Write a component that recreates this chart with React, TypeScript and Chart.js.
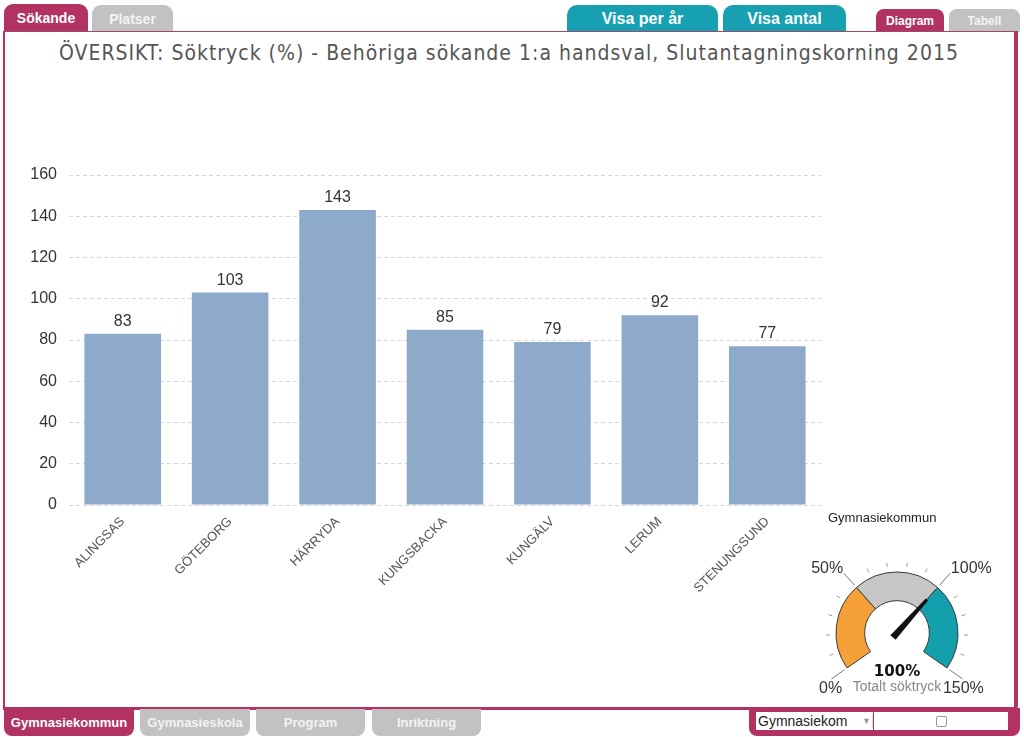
import React, { useEffect, useRef } from 'react';
import { Chart, registerables } from 'chart.js';

Chart.register(...registerables);

// ---------- data ----------
const chartTitle = 'ÖVERSIKT: Söktryck (%) - Behöriga sökande 1:a handsval, Slutantagningskorning 2015';
const categories = ['ALINGSAS', 'GÖTEBORG', 'HÄRRYDA', 'KUNGSBACKA', 'KUNGÄLV', 'LERUM', 'STENUNGSUND'];
const values = [83, 103, 143, 85, 79, 92, 77];
const yMin = 0;
const yMax = 160;
const yStep = 20;
const xAxisTitle = 'Gymnasiekommun';

const gaugeBandNames = ['Låg', 'Mellan', 'Hög'];
const gaugeBands = [50, 50, 50];
const gaugeValue = 100;
const gaugeMax = 150;
const gaugeMinorStep = 10;
const gaugeMajorStep = 50;
const gaugeMajorLabels = ['0%', '50%', '100%', '150%'];
const gaugeValueLabel = '100%';
const gaugeCaption = 'Totalt söktryck';

const topLeftTabs = ['Sökande', 'Platser'];
const topMidTabs = ['Visa per år', 'Visa antal'];
const topRightTabs = ['Diagram', 'Tabell'];
const bottomTabs = ['Gymnasiekommun', 'Gymnasieskola', 'Program', 'Inriktning'];
const dropdownText = 'Gymnasiekom';

// ---------- styles ----------
const PINK = '#b23362';
const TEAL = '#17a0b2';
const GREY_TAB = '#c2c2c2';
const BAR = '#8eaacb';
const FONT = '"Liberation Sans", Arial, sans-serif';
const gaugeColors = ['#f6a03a', '#c6c6c6', '#139fab'];

const valueLabelPlugin = {
  id: 'valueLabels',
  afterDatasetsDraw(chart: any) {
    const ctx = chart.ctx;
    const meta = chart.getDatasetMeta(0);
    ctx.save();
    ctx.font = '16px ' + FONT;
    ctx.fillStyle = '#333';
    ctx.textAlign = 'center';
    ctx.textBaseline = 'alphabetic';
    meta.data.forEach((bar: any, i: number) => {
      ctx.fillText(String(values[i]), bar.x, bar.y - 8);
    });
    ctx.restore();
  },
};

const gaugePlugin = {
  id: 'gaugeDecor',
  afterDatasetsDraw(chart: any) {
    const ctx = chart.ctx;
    const arcs = chart.getDatasetMeta(0).data;
    if (!arcs.length) return;
    const first = arcs[0];
    const last = arcs[arcs.length - 1];
    const cx = first.x;
    const cy = first.y;
    const R = first.outerRadius;
    const a0 = first.startAngle;
    const a1 = last.endAngle;
    const angleFor = (v: number) => a0 + ((a1 - a0) * v) / gaugeMax;
    ctx.save();
    // ticks
    for (let k = 0; k * gaugeMinorStep <= gaugeMax; k++) {
      const v = k * gaugeMinorStep;
      const a = angleFor(v);
      const major = v % gaugeMajorStep === 0;
      const r1 = major ? R + 3 : R + 6;
      const r2 = major ? R + 19 : R + 10;
      ctx.beginPath();
      ctx.moveTo(cx + r1 * Math.cos(a), cy + r1 * Math.sin(a));
      ctx.lineTo(cx + r2 * Math.cos(a), cy + r2 * Math.sin(a));
      ctx.strokeStyle = major ? '#777' : '#999';
      ctx.lineWidth = 1;
      ctx.stroke();
    }
    // labels
    ctx.font = '16px ' + FONT;
    ctx.fillStyle = '#333';
    gaugeMajorLabels.forEach((lab, i) => {
      const a = angleFor(i * gaugeMajorStep);
      const x = cx + (R + 20) * Math.cos(a);
      const y = cy + (R + 20) * Math.sin(a);
      if (Math.sin(a) < 0) {
        ctx.textAlign = Math.cos(a) < 0 ? 'right' : 'left';
        ctx.textBaseline = 'bottom';
        ctx.fillText(lab, x, y + 4);
      } else {
        ctx.textAlign = 'center';
        ctx.textBaseline = 'top';
        ctx.fillText(lab, x, y + 1);
      }
    });
    // needle
    const an = angleFor(gaugeValue);
    const ux = Math.cos(an);
    const uy = Math.sin(an);
    const px = -uy;
    const py = ux;
    const rb = -6;
    const rt = R - 16;
    ctx.beginPath();
    ctx.moveTo(cx + rb * ux + 3.5 * px, cy + rb * uy + 3.5 * py);
    ctx.lineTo(cx + rt * ux + 1.5 * px, cy + rt * uy + 1.5 * py);
    ctx.lineTo(cx + rt * ux - 1.5 * px, cy + rt * uy - 1.5 * py);
    ctx.lineTo(cx + rb * ux - 3.5 * px, cy + rb * uy - 3.5 * py);
    ctx.closePath();
    ctx.fillStyle = '#111';
    ctx.fill();
    // center texts
    ctx.textAlign = 'center';
    ctx.textBaseline = 'middle';
    ctx.font = 'bold 15px "DejaVu Sans", sans-serif';
    ctx.fillStyle = '#111';
    ctx.fillText(gaugeValueLabel, cx, cy + 39);
    ctx.font = '14px ' + FONT;
    ctx.fillStyle = '#888';
    ctx.fillText(gaugeCaption, cx, cy + 54);
    ctx.restore();
  },
};

function BarChart() {
  const ref = useRef<HTMLCanvasElement>(null);
  useEffect(() => {
    const chart = new Chart(ref.current as HTMLCanvasElement, {
      type: 'bar',
      data: {
        labels: categories,
        datasets: [
          {
            data: values,
            backgroundColor: BAR,
            borderWidth: 0,
            categoryPercentage: 1,
            barPercentage: 0.713,
          },
        ],
      },
      options: {
        animation: false,
        responsive: false,
        maintainAspectRatio: false,
        layout: { padding: { top: 35, right: 9, left: 0, bottom: 0 } },
        plugins: { legend: { display: false }, tooltip: { enabled: false }, title: { display: false } },
        scales: {
          x: {
            grid: { display: false, drawTicks: false },
            border: { display: false },
            ticks: {
              autoSkip: false,
              minRotation: 45,
              maxRotation: 45,
              padding: 9,
              color: '#555',
              font: { size: 13, family: FONT },
            },
            afterFit: (s: any) => {
              s.height = 105;
            },
          },
          y: {
            min: yMin,
            max: yMax,
            ticks: { stepSize: yStep, padding: 12, color: '#333', font: { size: 16, family: FONT } },
            grid: { color: '#d8d8d8', drawTicks: false, lineWidth: 1 },
            border: { display: false, dash: [4, 3] },
            afterFit: (s: any) => {
              s.width = 61;
            },
          },
        },
      } as any,
      plugins: [valueLabelPlugin],
    });
    return () => chart.destroy();
  }, []);
  return (
    <canvas
      ref={ref}
      width={822}
      height={470}
      style={{ position: 'absolute', left: 8, top: 140, width: 822, height: 470, display: 'block' }}
    />
  );
}

function Gauge() {
  const ref = useRef<HTMLCanvasElement>(null);
  useEffect(() => {
    const chart = new Chart(ref.current as HTMLCanvasElement, {
      type: 'doughnut',
      data: {
        labels: gaugeBandNames,
        datasets: [
          {
            data: gaugeBands,
            backgroundColor: gaugeColors,
            borderColor: '#3a3a3a',
            borderWidth: 1,
          },
        ],
      },
      options: {
        animation: false,
        responsive: false,
        maintainAspectRatio: false,
        rotation: -125,
        circumference: 250,
        cutout: '53%',
        radius: 61,
        layout: { padding: 0 },
        plugins: { legend: { display: false }, tooltip: { enabled: false } },
      } as any,
      plugins: [gaugePlugin],
    });
    return () => chart.destroy();
  }, []);
  return (
    <canvas
      ref={ref}
      width={200}
      height={150}
      style={{ position: 'absolute', left: 797, top: 545, width: 200, height: 150, display: 'block' }}
    />
  );
}

const tabBase: React.CSSProperties = {
  position: 'absolute',
  color: '#fff',
  fontFamily: FONT,
  fontWeight: 'bold',
  display: 'flex',
  alignItems: 'center',
  justifyContent: 'center',
  boxSizing: 'border-box',
  whiteSpace: 'nowrap',
};

export default function App() {
  const topLeftPos = [
    { left: 4, top: 4, width: 84, height: 28, bg: PINK, color: '#fff' },
    { left: 92, top: 5, width: 81, height: 27, bg: GREY_TAB, color: '#f3f3f3' },
  ];
  const topMidPos = [
    { left: 567, top: 5, width: 151, height: 27 },
    { left: 723, top: 5, width: 123, height: 27 },
  ];
  const topRightPos = [
    { left: 876, top: 9, width: 68, height: 23, bg: PINK, color: '#fff' },
    { left: 949, top: 9, width: 71, height: 23, bg: GREY_TAB, color: '#f3f3f3' },
  ];
  const bottomPos = [
    { left: 4, width: 130, bg: PINK, color: '#fff' },
    { left: 140, width: 110, bg: GREY_TAB, color: '#f3f3f3' },
    { left: 256, width: 109, bg: GREY_TAB, color: '#f3f3f3' },
    { left: 372, width: 109, bg: GREY_TAB, color: '#f3f3f3' },
  ];
  return (
    <div
      style={{
        position: 'absolute',
        left: 0,
        top: 0,
        width: 1024,
        height: 737,
        background: '#fff',
        overflow: 'hidden',
        fontFamily: FONT,
      }}
    >
      {topLeftTabs.map((t, i) => (
        <div
          key={t}
          style={{
            ...tabBase,
            ...topLeftPos[i],
            background: topLeftPos[i].bg,
            color: topLeftPos[i].color,
            borderRadius: '9px 9px 0 0',
            fontSize: 14,
          }}
        >
          {t}
        </div>
      ))}
      {topMidTabs.map((t, i) => (
        <div
          key={t}
          style={{
            ...tabBase,
            ...topMidPos[i],
            background: TEAL,
            borderRadius: '10px 10px 0 0',
            fontSize: 16,
          }}
        >
          {t}
        </div>
      ))}
      {topRightTabs.map((t, i) => (
        <div
          key={t}
          style={{
            ...tabBase,
            ...topRightPos[i],
            background: topRightPos[i].bg,
            color: topRightPos[i].color,
            borderRadius: '8px 8px 0 0',
            fontSize: 12,
          }}
        >
          {t}
        </div>
      ))}

      {/* main panel */}
      <div
        style={{
          position: 'absolute',
          left: 3,
          top: 31,
          width: 1015,
          height: 679,
          boxSizing: 'border-box',
          borderTop: '1px solid #9c4a6c',
          borderLeft: '2px solid ' + PINK,
          borderRight: '4px solid ' + PINK,
          borderBottom: '3px solid ' + PINK,
          borderBottomRightRadius: 4,
          background: '#fff',
        }}
      />
      <div
        style={{
          position: 'absolute',
          left: 0,
          width: 1018,
          top: 41,
          textAlign: 'center',
          fontFamily: '"DejaVu Sans Condensed", "DejaVu Sans", sans-serif',
          fontSize: 21,
          letterSpacing: 1,
          color: '#555',
          whiteSpace: 'nowrap',
        }}
      >
        {chartTitle}
      </div>

      <BarChart />
      <div
        style={{
          position: 'absolute',
          left: 828,
          top: 510,
          fontSize: 13,
          color: '#222',
          fontFamily: FONT,
          whiteSpace: 'nowrap',
        }}
      >
        {xAxisTitle}
      </div>
      <Gauge />

      {bottomTabs.map((t, i) => (
        <div
          key={t}
          style={{
            ...tabBase,
            left: bottomPos[i].left,
            width: bottomPos[i].width,
            top: 709,
            height: 27,
            background: bottomPos[i].bg,
            color: bottomPos[i].color,
            borderRadius: '0 0 8px 8px',
            fontSize: 13,
          }}
        >
          {t}
        </div>
      ))}

      {/* bottom-right selector box */}
      <div
        style={{
          position: 'absolute',
          left: 749,
          top: 708,
          width: 271,
          height: 28,
          background: PINK,
          borderRadius: '0 0 8px 8px',
        }}
      />
      <div
        style={{
          position: 'absolute',
          left: 756,
          top: 712,
          width: 117,
          height: 18,
          background: '#fff',
          fontSize: 14,
          color: '#222',
          lineHeight: '18px',
          paddingLeft: 2,
          boxSizing: 'border-box',
        }}
      >
        {dropdownText}
        <span style={{ position: 'absolute', left: 106, top: 0, fontSize: 9, color: '#999' }}>▼</span>
        <span style={{ position: 'absolute', left: 116, top: 2, width: 1, height: 14, background: '#ddd' }} />
      </div>
      <div
        style={{
          position: 'absolute',
          left: 874,
          top: 712,
          width: 134,
          height: 18,
          background: '#fff',
        }}
      >
        <div
          style={{
            position: 'absolute',
            left: 62,
            top: 4,
            width: 9,
            height: 9,
            border: '1px solid #999',
            borderRadius: 2,
            background: '#fff',
          }}
        />
      </div>
    </div>
  );
}
